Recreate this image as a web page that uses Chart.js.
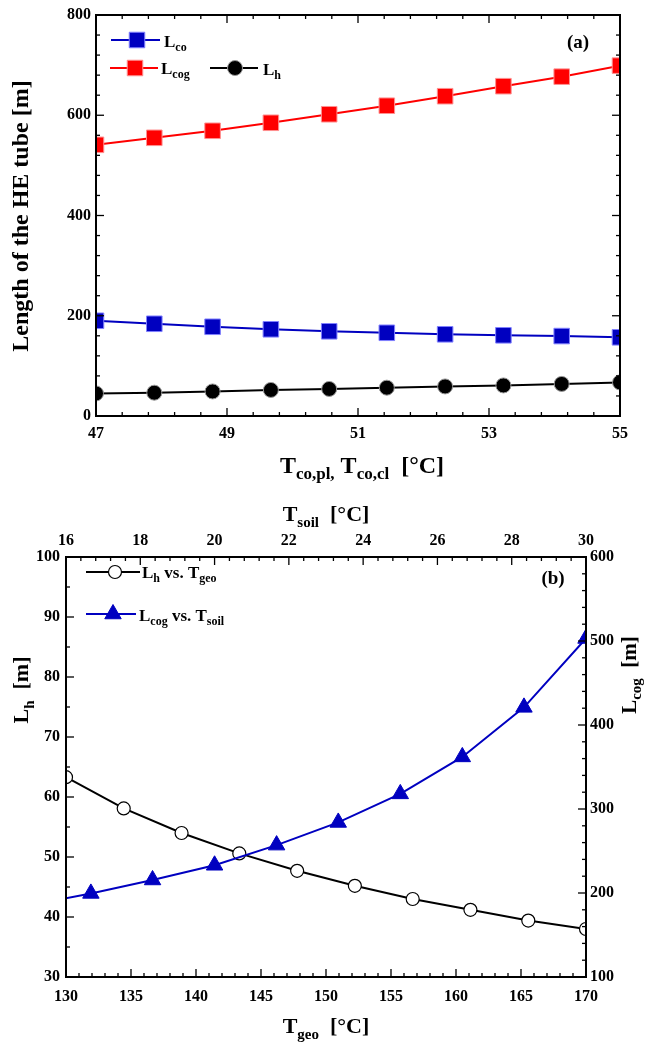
<!DOCTYPE html>
<html lang="en">
<head>
    <meta charset="UTF-8">
    <title>HE tube length</title>
    <script src="https://cdn.jsdelivr.net/npm/chart.js@4.4.1/dist/chart.umd.min.js"></script>
    <style>
        body {
            margin: 0;
            background: #fff;
        }

        .page {
            position: relative;
            width: 648px;
            height: 1042px;
        }

        canvas {
            position: absolute;
            left: 0;
        }
    </style>
</head>
<body>
    <div class="page">
        <canvas id="chartA" width="648" height="490" style="top:0"></canvas>
        <canvas id="chartB" width="648" height="552" style="top:490px"></canvas>
    </div>

<script>
// (a) tube length vs condenser temperature
const tempCo = [47, 47.89, 48.78, 49.67, 50.56, 51.44, 52.33, 53.22, 54.11, 55];
const lenCo  = [190, 184, 178, 173, 169, 166, 163, 161, 159.5, 157];
const lenCog = [541, 555, 569, 585, 602, 619, 638, 658, 677, 699];
const lenH   = [45, 46.5, 49, 52, 54, 56.5, 59, 61, 64, 67];

// (b) Lh vs geo temperature, Lcog vs soil temperature
const tempGeo    = [130, 134.44, 138.89, 143.33, 147.78, 152.22, 156.67, 161.11, 165.56, 170];
const lenHGeo    = [63.3, 58.1, 54.0, 50.6, 47.7, 45.2, 43.0, 41.2, 39.4, 38.0];
const tempSoil   = [15, 16.67, 18.33, 20, 21.67, 23.33, 25, 26.67, 28.33, 30];
const lenCogSoil = [185, 199.5, 215.5, 233, 257, 284, 318, 362, 421, 503];

const BLUE = "#0000c0";
const RED = "#ff0000";
const SERIF = "'Liberation Serif', 'Times New Roman', serif";

function pairs(xs, ys) {
  return xs.map((x, i) => ({ x: x, y: ys[i] }));
}

// text with subscripts: parts = [[text, isSub], ...]
function richText(ctx, x, y, parts, size, align) {
  const subSize = Math.round(size * 0.7);
  let total = 0;
  parts.forEach(p => {
    ctx.font = "bold " + (p[1] ? subSize : size) + "px " + SERIF;
    total += ctx.measureText(p[0]).width;
  });
  let cx = x;
  if (align === "center") cx = x - total / 2;
  ctx.textBaseline = "alphabetic";
  ctx.textAlign = "left";
  ctx.fillStyle = "#000";
  parts.forEach(p => {
    ctx.font = "bold " + (p[1] ? subSize : size) + "px " + SERIF;
    ctx.fillText(p[0], cx, p[1] ? y + size * 0.25 : y);
    cx += ctx.measureText(p[0]).width;
  });
}

function rotatedText(ctx, x, y, parts, size) {
  ctx.save();
  ctx.translate(x, y);
  ctx.rotate(-Math.PI / 2);
  richText(ctx, 0, 0, parts, size, "center");
  ctx.restore();
}

function legendMark(ctx, e) {
  ctx.save();
  ctx.strokeStyle = e.line;
  ctx.lineWidth = 2;
  ctx.beginPath();
  ctx.moveTo(e.x1, e.y);
  ctx.lineTo(e.x2, e.y);
  ctx.stroke();
  ctx.fillStyle = e.fill;
  ctx.strokeStyle = e.stroke;
  ctx.lineWidth = e.bw;
  Chart.helpers.drawPoint(ctx, { pointStyle: e.style, radius: e.r, rotation: 0, borderWidth: e.bw }, e.mx, e.y);
  ctx.restore();
}

// inward major/minor ticks on every side, plus the box
const frameTicks = {
  id: "frameTicks",
  afterDatasetsDraw(chart, args, opts) {
    const ctx = chart.ctx, a = chart.chartArea;
    ctx.save();
    ctx.strokeStyle = "#000";
    ctx.lineWidth = 1.3;
    (opts.marks || []).forEach(m => {
      const s = chart.scales[m.scale];
      const n = Math.round((s.max - s.min) / m.minor);
      for (let i = 0; i <= n; i++) {
        const v = s.min + i * m.minor;
        const q = (v - s.min) / m.major;
        const len = Math.abs(q - Math.round(q)) < 1e-6 ? 8 : 4;
        const p = s.getPixelForValue(v);
        ctx.beginPath();
        if (m.side === "bottom") { ctx.moveTo(p, a.bottom); ctx.lineTo(p, a.bottom - len); }
        if (m.side === "top") { ctx.moveTo(p, a.top); ctx.lineTo(p, a.top + len); }
        if (m.side === "left") { ctx.moveTo(a.left, p); ctx.lineTo(a.left + len, p); }
        if (m.side === "right") { ctx.moveTo(a.right, p); ctx.lineTo(a.right - len, p); }
        ctx.stroke();
      }
    });
    ctx.lineWidth = 2;
    ctx.strokeRect(a.left, a.top, a.right - a.left, a.bottom - a.top);
    ctx.restore();
  }
};

const tickFont = { family: SERIF, size: 16, weight: "bold" };

function axis(extra) {
  return Object.assign({
    type: "linear",
    grid: { display: false, drawTicks: false },
    border: { display: false },
    ticks: { color: "#000", font: tickFont, padding: 6 }
  }, extra);
}

// ---------- chart (a) ----------
const decorA = {
  id: "decorA",
  afterDraw(chart) {
    const ctx = chart.ctx;
    legendMark(ctx, { x1: 111, x2: 160, y: 40, mx: 137, line: BLUE, fill: BLUE, stroke: "#8080ff", bw: 1, style: "rect", r: 11 });
    richText(ctx, 164, 47, [["L", false], ["co", true]], 17, "left");
    legendMark(ctx, { x1: 110, x2: 158, y: 68, mx: 135, line: RED, fill: RED, stroke: "#ff9090", bw: 1, style: "rect", r: 11 });
    richText(ctx, 161, 74, [["L", false], ["cog", true]], 17, "left");
    legendMark(ctx, { x1: 210, x2: 258, y: 68, mx: 235, line: "#000", fill: "#000", stroke: "#999", bw: 1, style: "circle", r: 7.5 });
    richText(ctx, 263, 75, [["L", false], ["h", true]], 17, "left");
    richText(ctx, 578, 48, [["(a)", false]], 19, "center");
    rotatedText(ctx, 28, 216, [["Length of the HE tube [m]", false]], 24);
    richText(ctx, 362, 473, [["T", false], ["co,pl,", true], [" T", false], ["co,cl", true], ["  [\u00b0C]", false]], 24, "center");
  }
};

new Chart("chartA", {
  type: "line",
  data: {
    datasets: [
      {
        data: pairs(tempCo, lenCo),
        borderColor: BLUE, borderWidth: 2,
        pointStyle: "rect", pointRadius: 11,
        pointBackgroundColor: BLUE, pointBorderColor: "#8080ff", pointBorderWidth: 1
      },
      {
        data: pairs(tempCo, lenCog),
        borderColor: RED, borderWidth: 2,
        pointStyle: "rect", pointRadius: 11,
        pointBackgroundColor: RED, pointBorderColor: "#ff9090", pointBorderWidth: 1
      },
      {
        data: pairs(tempCo, lenH),
        borderColor: "#000", borderWidth: 2,
        pointStyle: "circle", pointRadius: 7.5,
        pointBackgroundColor: "#000", pointBorderColor: "#999", pointBorderWidth: 1
      }
    ]
  },
  options: {
    responsive: false,
    animation: false,
    layout: { padding: { top: 15, right: 28, left: 0, bottom: 0 } },
    plugins: {
      legend: { display: false },
      tooltip: { enabled: false },
      frameTicks: {
        marks: [
          { scale: "x", side: "bottom", major: 2, minor: 0.4 },
          { scale: "x", side: "top", major: 2, minor: 0.4 },
          { scale: "y", side: "left", major: 200, minor: 40 },
          { scale: "y", side: "right", major: 200, minor: 40 }
        ]
      }
    },
    scales: {
      x: axis({
        min: 47, max: 55,
        ticks: { color: "#000", font: tickFont, padding: 8, stepSize: 2, maxRotation: 0 },
        afterFit: s => { s.height = 74; }
      }),
      y: axis({
        min: 0, max: 800,
        ticks: { color: "#000", font: tickFont, padding: 5, stepSize: 200 },
        afterFit: s => { s.width = 96; }
      })
    }
  },
  plugins: [frameTicks, decorA]
});

// ---------- chart (b) ----------
const decorB = {
  id: "decorB",
  afterDraw(chart) {
    const ctx = chart.ctx;
    legendMark(ctx, { x1: 86, x2: 140, y: 82, mx: 115, line: "#000", fill: "#fff", stroke: "#000", bw: 1.2, style: "circle", r: 6.5 });
    richText(ctx, 142, 88, [["L", false], ["h", true], [" vs. T", false], ["geo", true]], 17, "left");
    legendMark(ctx, { x1: 86, x2: 136, y: 124, mx: 113, line: BLUE, fill: BLUE, stroke: BLUE, bw: 1, style: "triangle", r: 9.5 });
    richText(ctx, 139, 131, [["L", false], ["cog", true], [" vs. T", false], ["soil", true]], 17, "left");
    richText(ctx, 553, 94, [["(b)", false]], 19, "center");
    richText(ctx, 326, 31, [["T", false], ["soil", true], ["  [\u00b0C]", false]], 22, "center");
    richText(ctx, 326, 543, [["T", false], ["geo", true], ["  [\u00b0C]", false]], 22, "center");
    rotatedText(ctx, 28, 200, [["L", false], ["h", true], ["  [m]", false]], 22);
    rotatedText(ctx, 636, 185, [["L", false], ["cog", true], ["  [m]", false]], 21);
  }
};

new Chart("chartB", {
  type: "line",
  data: {
    datasets: [
      {
        data: pairs(tempGeo, lenHGeo),
        xAxisID: "x", yAxisID: "y",
        order: 2,
        borderColor: "#000", borderWidth: 2,
        pointStyle: "circle", pointRadius: 6.5,
        pointBackgroundColor: "#fff", pointBorderColor: "#000", pointBorderWidth: 1.2
      },
      {
        data: pairs(tempSoil, lenCogSoil),
        xAxisID: "x2", yAxisID: "y2",
        order: 1,
        borderColor: BLUE, borderWidth: 2,
        pointStyle: "triangle", pointRadius: 9.5,
        pointBackgroundColor: BLUE, pointBorderColor: BLUE, pointBorderWidth: 1
      }
    ]
  },
  options: {
    responsive: false,
    animation: false,
    layout: { padding: 0 },
    plugins: {
      legend: { display: false },
      tooltip: { enabled: false },
      frameTicks: {
        marks: [
          { scale: "x", side: "bottom", major: 5, minor: 1 },
          { scale: "x2", side: "top", major: 2, minor: 0.4 },
          { scale: "y", side: "left", major: 10, minor: 5 },
          { scale: "y2", side: "right", major: 100, minor: 20 }
        ]
      }
    },
    scales: {
      x: axis({
        position: "bottom",
        min: 130, max: 170,
        ticks: { color: "#000", font: tickFont, padding: 10, stepSize: 5, maxRotation: 0 },
        afterFit: s => { s.height = 65; }
      }),
      x2: axis({
        position: "top",
        min: 16, max: 30,
        ticks: { color: "#000", font: tickFont, padding: 7, stepSize: 2, maxRotation: 0 },
        afterFit: s => { s.height = 67; }
      }),
      y: axis({
        position: "left",
        min: 30, max: 100,
        ticks: { color: "#000", font: tickFont, padding: 6, stepSize: 10 },
        afterFit: s => { s.width = 66; }
      }),
      y2: axis({
        position: "right",
        min: 100, max: 600,
        ticks: { color: "#000", font: tickFont, padding: 4, stepSize: 100 },
        afterFit: s => { s.width = 62; }
      })
    }
  },
  plugins: [frameTicks, decorB]
});
</script>
</body>
</html>
